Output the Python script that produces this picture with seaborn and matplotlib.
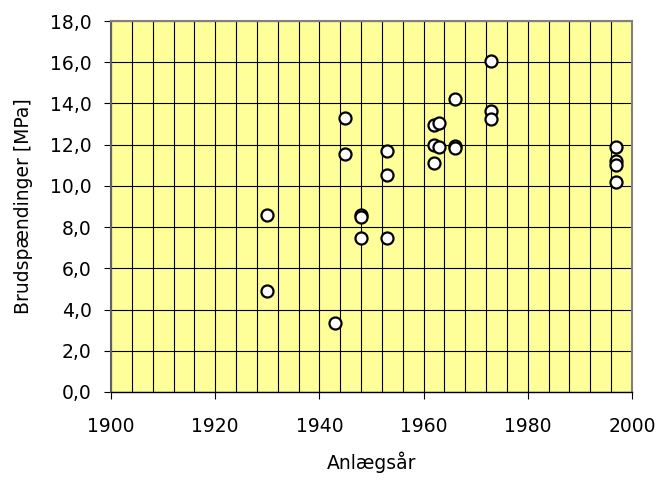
import numpy as np
import pandas as pd
import seaborn as sns
import matplotlib.pyplot as plt

from matplotlib.ticker import MultipleLocator, FuncFormatter

# =============================================================================
# Data
# =============================================================================

years = [1930, 1930, 1943, 1945, 1945, 1948, 1948, 1948,
         1953, 1953, 1953, 1962, 1962, 1962, 1963, 1963,
         1966, 1966, 1966, 1973, 1973, 1973,
         1997, 1997, 1997, 1997]

stress = [8.6, 4.9, 3.35, 13.3, 11.55, 8.6, 8.5, 7.45,
          11.7, 10.55, 7.45, 12.95, 12.0, 11.1, 13.05, 11.9,
          14.2, 11.95, 11.85, 16.05, 13.65, 13.25,
          11.9, 11.2, 11.0, 10.2]

df = pd.DataFrame({"Anlægsår": years, "Brudspændinger": stress})

# =============================================================================
# Plot
# =============================================================================

sns.set_style("white")
plt.rcParams["font.family"] = ["DejaVu Sans"]
plt.rcParams["text.color"] = "black"
plt.rcParams["axes.labelcolor"] = "black"
plt.rcParams["xtick.color"] = "black"
plt.rcParams["ytick.color"] = "black"

fig = plt.figure(figsize=(6.58, 4.92), dpi=100)
ax = fig.add_axes([0.1687, 0.2033, 0.7918, 0.754])

ax.set_facecolor("#FFFF99")

sns.scatterplot(
    data=df,
    x="Anlægsår",
    y="Brudspændinger",
    s=75,
    color="white",
    edgecolor="black",
    linewidth=1.6,
    zorder=3,
    ax=ax
)

ax.set_xlim(1900, 2000)
ax.set_ylim(0, 18)

ax.xaxis.set_major_locator(MultipleLocator(20))
ax.xaxis.set_minor_locator(MultipleLocator(4))
ax.yaxis.set_major_locator(MultipleLocator(2))

ax.yaxis.set_major_formatter(FuncFormatter(lambda v, p: f"{v:.1f}".replace(".", ",")))

ax.grid(which="both", axis="x", color="black", linewidth=0.8)
ax.grid(which="major", axis="y", color="black", linewidth=0.8)
ax.set_axisbelow(True)

ax.tick_params(axis="both", which="major", direction="out", length=5,
               width=0.8, color="black", labelsize=13.5)
ax.tick_params(axis="x", which="major", pad=13)
ax.tick_params(axis="y", which="major", pad=9)
ax.tick_params(axis="x", which="minor", length=0)
ax.tick_params(left=True, bottom=True)

for side in ["top", "right"]:
    ax.spines[side].set_color("#808080")
    ax.spines[side].set_linewidth(1.5)
ax.spines["left"].set_color("#606060")
ax.spines["left"].set_linewidth(1.5)
ax.spines["bottom"].set_color("black")
ax.spines["bottom"].set_linewidth(1.0)

ax.set_xlabel("Anlægsår", fontsize=13.5, labelpad=11)
ax.set_ylabel("Brudspændinger [MPa]", fontsize=13.5, labelpad=12)

plt.savefig("out.png", dpi=100)
